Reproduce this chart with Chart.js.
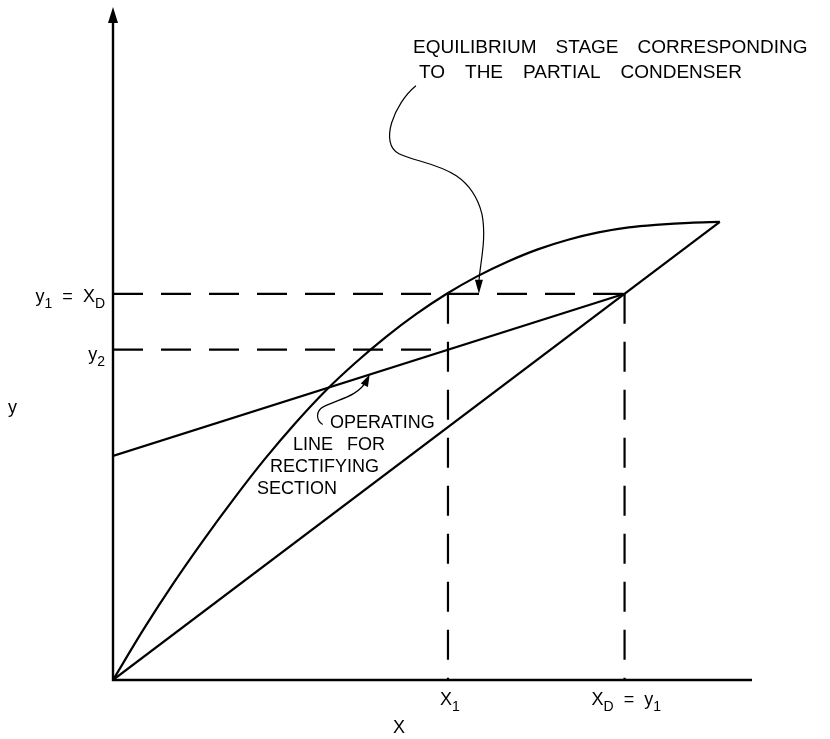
<!DOCTYPE html>
<html>
<head>
<meta charset="utf-8">
<script src="https://cdn.jsdelivr.net/npm/chart.js@4"></script>
<style>
  html, body { margin: 0; padding: 0; background: #fff; }
  canvas { display: block; }
</style>
</head>
<body>
<canvas id="mccabe" width="830" height="739"></canvas>
<script>
// equilibrium curve (liquid x vs vapour y)
const eqX = [0, 0.05, 0.10, 0.15, 0.20, 0.25, 0.30, 0.35, 0.40, 0.45, 0.50, 0.55, 0.60, 0.65, 0.70, 0.75, 0.80, 0.85, 0.90, 0.95, 1.0];
const eqY = [0, 0.110, 0.212, 0.307, 0.397, 0.482, 0.560, 0.631, 0.693, 0.749, 0.799, 0.843, 0.881, 0.913, 0.940, 0.961, 0.977, 0.988, 0.994, 0.998, 1.0];
// 45 degree line
const diagX = [0, 1];
const diagY = [0, 1];
// rectifying operating line
const opX = [0, 0.843];
const opY = [0.489, 0.843];
// marked compositions
const xD = 0.843;
const x1 = 0.552;
const y1 = 0.843;
const y2 = 0.721;

const pts = (xs, ys) => xs.map((x, i) => ({ x: x, y: ys[i] }));
const FONT = '"Liberation Sans", Arial, sans-serif';

function solid(data, extra) {
  return Object.assign({
    data: data,
    showLine: true,
    borderColor: '#000',
    borderWidth: 2.2,
    pointRadius: 0,
    fill: false
  }, extra || {});
}
function dashed(data) {
  return solid(data, { borderDash: [30, 18], borderWidth: 2.2 });
}

// text with subscripts: parts = [[text, isSub], ...]
function drawSub(ctx, parts, x, y, align) {
  const big = '18px ' + FONT, small = '14px ' + FONT;
  let total = 0;
  parts.forEach(p => { ctx.font = p[1] ? small : big; total += ctx.measureText(p[0]).width; });
  let cx = align === 'right' ? x - total : align === 'center' ? x - total / 2 : x;
  ctx.textAlign = 'left';
  ctx.textBaseline = 'alphabetic';
  parts.forEach(p => {
    ctx.font = p[1] ? small : big;
    ctx.fillText(p[0], cx, p[1] ? y + 6 : y);
    cx += ctx.measureText(p[0]).width;
  });
}

function drawWords(ctx, text, x, y, gap, size) {
  ctx.font = (size || 18) + 'px ' + FONT;
  ctx.textAlign = 'left';
  ctx.textBaseline = 'alphabetic';
  let cx = x;
  text.split(' ').forEach(w => {
    ctx.fillText(w, cx, y);
    cx += ctx.measureText(w).width + gap;
  });
}

function arrowHead(ctx, tx, ty, ang, len, half) {
  const bx = tx - Math.cos(ang) * len, by = ty - Math.sin(ang) * len;
  const nx = -Math.sin(ang) * half, ny = Math.cos(ang) * half;
  ctx.beginPath();
  ctx.moveTo(tx, ty);
  ctx.lineTo(bx + nx, by + ny);
  ctx.lineTo(bx - nx, by - ny);
  ctx.closePath();
  ctx.fill();
}

const decor = {
  id: 'decor',
  afterDatasetsDraw(chart) {
    const ctx = chart.ctx;
    const sx = chart.scales.x, sy = chart.scales.y;
    const X = v => sx.getPixelForValue(v), Y = v => sy.getPixelForValue(v);
    const ca = chart.chartArea;
    ctx.save();
    ctx.strokeStyle = '#000';
    ctx.fillStyle = '#000';

    // axes, arrow on y only
    ctx.lineWidth = 2.4;
    ctx.beginPath();
    ctx.moveTo(X(0), ca.top + 8);
    ctx.lineTo(X(0), Y(0));
    ctx.lineTo(ca.right, Y(0));
    ctx.stroke();
    arrowHead(ctx, X(0), ca.top, -Math.PI / 2, 16, 5);

    // value labels
    drawSub(ctx, [['y', false], ['1', true], ['  =  ', false], ['X', false], ['D', true]], X(0) - 8, Y(y1) + 8, 'right');
    drawSub(ctx, [['y', false], ['2', true]], X(0) - 8, Y(y2) + 10, 'right');
    drawSub(ctx, [['X', false], ['1', true]], X(x1) - 8, Y(0) + 25, 'left');
    drawSub(ctx, [['X', false], ['D', true], ['  =  ', false], ['y', false], ['1', true]], X(xD) - 33, Y(0) + 25, 'left');

    // axis titles
    ctx.font = '18px ' + FONT;
    ctx.textAlign = 'left';
    ctx.fillText('y', 8, 413);
    ctx.fillText('X', 393, 733);

    // annotations
    drawWords(ctx, 'EQUILIBRIUM STAGE CORRESPONDING', 413, 53, 19, 19);
    drawWords(ctx, 'TO THE PARTIAL CONDENSER', 419, 78, 20, 19);
    drawWords(ctx, 'OPERATING', 330, 428, 14);
    drawWords(ctx, 'LINE FOR', 293, 450, 14);
    drawWords(ctx, 'RECTIFYING', 270, 472, 14);
    drawWords(ctx, 'SECTION', 257, 494, 14);

    // leader to the partial condenser stage
    ctx.lineWidth = 1.2;
    const tx = X(0.603), ty = Y(y1);
    ctx.beginPath();
    ctx.moveTo(tx - 63, ty - 208);
    ctx.bezierCurveTo(tx - 85, ty - 190, tx - 100, ty - 150, tx - 80, ty - 140);
    ctx.bezierCurveTo(tx - 55, ty - 128, tx - 10, ty - 130, tx + 3, ty - 80);
    ctx.bezierCurveTo(tx + 8, ty - 55, tx + 1, ty - 30, tx, ty - 12);
    ctx.stroke();
    arrowHead(ctx, tx, ty, Math.PI / 2, 14, 4);

    // leader to the operating line
    const ox = X(0.423), oy = Y(0.489 + 0.423 * (0.843 - 0.489) / 0.843);
    ctx.beginPath();
    ctx.moveTo(ox - 47, oy + 50);
    ctx.bezierCurveTo(ox - 54, oy + 46, ox - 54, oy + 36, ox - 46, oy + 32);
    ctx.bezierCurveTo(ox - 30, oy + 24, ox - 12, oy + 22, ox - 3, oy + 6);
    ctx.stroke();
    arrowHead(ctx, ox, oy, Math.atan2(-6, 3), 12, 4);

    ctx.restore();
  }
};

new Chart(document.getElementById('mccabe'), {
  type: 'scatter',
  data: {
    datasets: [
      solid(pts(eqX, eqY), { cubicInterpolationMode: 'monotone' }),
      solid(pts(diagX, diagY)),
      solid(pts(opX, opY)),
      dashed([{ x: 0, y: y1 }, { x: xD, y: y1 }]),
      dashed([{ x: 0, y: y2 }, { x: x1, y: y2 }]),
      dashed([{ x: x1, y: y1 }, { x: x1, y: 0 }]),
      dashed([{ x: xD, y: y1 }, { x: xD, y: 0 }])
    ]
  },
  options: {
    responsive: false,
    animation: false,
    layout: { padding: { left: 113, right: 78, top: 7, bottom: 59 } },
    plugins: { legend: { display: false }, tooltip: { enabled: false } },
    scales: {
      x: { type: 'linear', min: 0, max: 1.053, display: false },
      y: { type: 'linear', min: 0, max: 1.469, display: false }
    }
  },
  plugins: [decor]
});
</script>
</body>
</html>
